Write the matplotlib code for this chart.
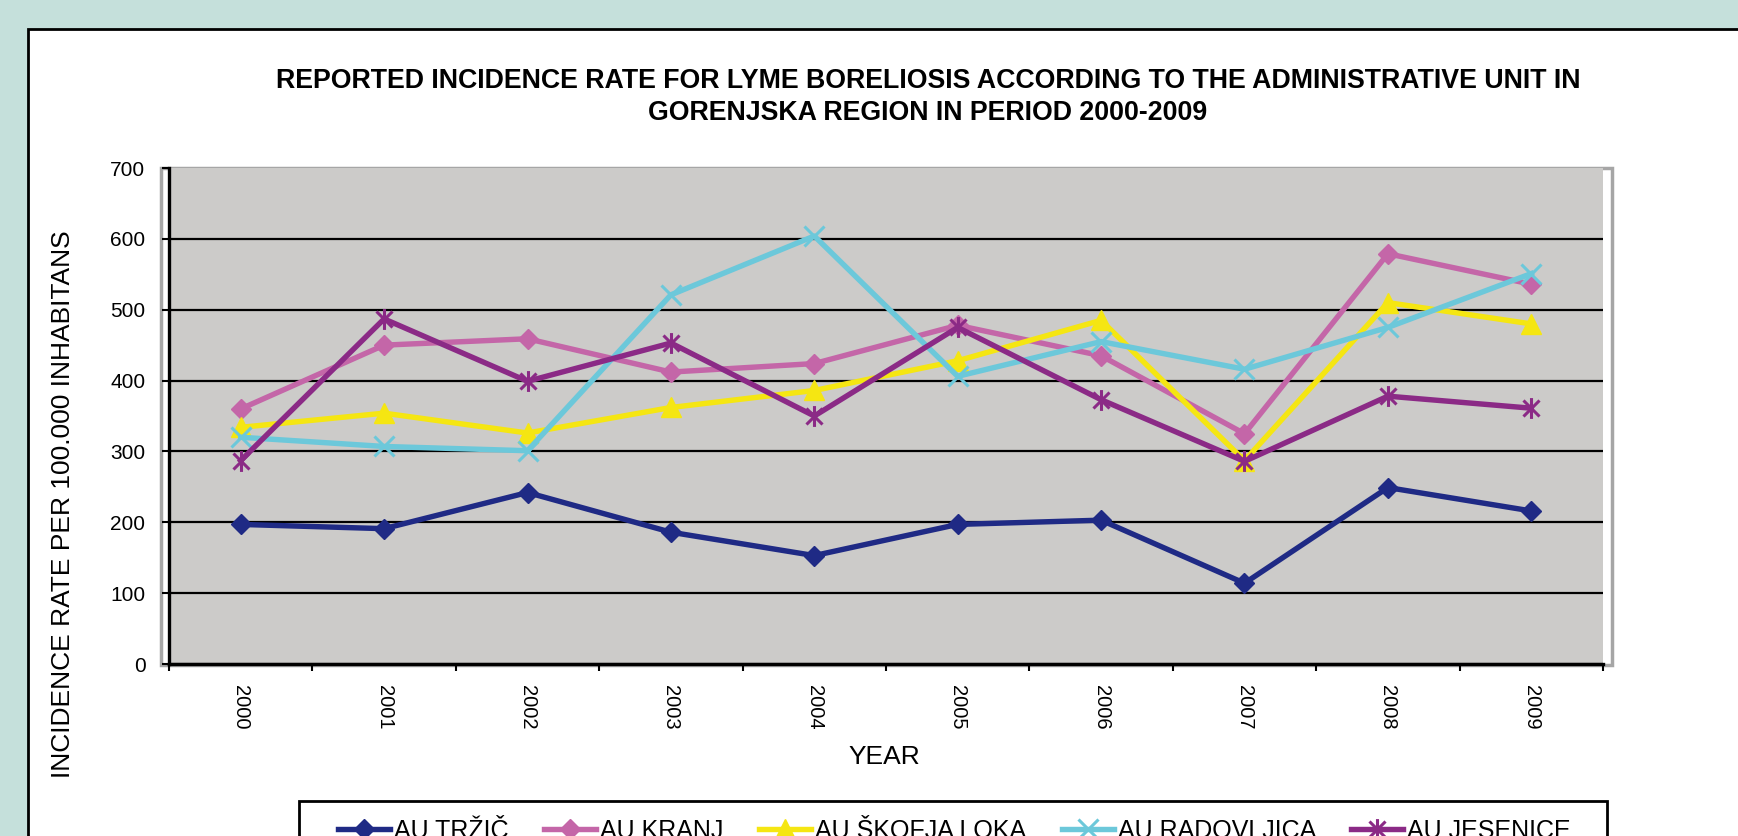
import numpy as np
import matplotlib
matplotlib.use('Agg')
import matplotlib.pyplot as plt
from matplotlib.path import Path
from matplotlib.patches import Rectangle

plt.rcParams['font.family'] = ['Liberation Sans', 'DejaVu Sans']

years = ['2000', '2001', '2002', '2003', '2004', '2005', '2006', '2007', '2008', '2009']
series_names = ['AU TRŽIČ', 'AU KRANJ', 'AU ŠKOFJA LOKA', 'AU RADOVLJICA', 'AU JESENICE']
trzic = [197, 191, 242, 186, 153, 197, 203, 114, 249, 216]
kranj = [360, 450, 459, 412, 424, 478, 435, 325, 579, 536]
skofja_loka = [334, 354, 326, 362, 386, 428, 485, 287, 510, 480]
radovljica = [320, 307, 301, 521, 604, 406, 455, 416, 475, 551]
jesenice = [287, 487, 399, 453, 350, 475, 373, 286, 378, 361]
yticks = [0, 100, 200, 300, 400, 500, 600, 700]

W, H = 1738, 836
fig = plt.figure(figsize=(W / 100, H / 100), dpi=100, facecolor='#C5E0DB')

# white panel with black border
fig.add_artist(Rectangle((28 / W, -0.1), 2, 1 - 29 / H + 0.1, transform=fig.transFigure,
                         facecolor='white', edgecolor='black', lw=2, zorder=-2))
# light grey frame round the plot area
fig.add_artist(Rectangle((161 / W, 1 - 665 / H), (1612 - 161) / W, (665 - 168) / H,
                         transform=fig.transFigure, facecolor='white', edgecolor='#A6A6A6',
                         lw=2.5, zorder=-1))

ax = fig.add_axes([169 / W, 1 - 664 / H, (1603 - 169) / W, (664 - 168) / H])
ax.set_facecolor('#CCCBC9')

# asterisk marker: X plus a vertical bar
star = Path([(-1, -1), (1, 1), (-1, 1), (1, -1), (0, -1.3), (0, 1.3)],
            [Path.MOVETO, Path.LINETO, Path.MOVETO, Path.LINETO, Path.MOVETO, Path.LINETO])

x = np.arange(len(years))
styles = [
    dict(color='#1F2A85', marker='D', ms=10.5),
    dict(color='#C466A8', marker='D', ms=10.5),
    dict(color='#F5E612', marker='^', ms=15),
    dict(color='#6CC8DA', marker='x', ms=14, mew=2.2),
    dict(color='#8B2A86', marker=star, ms=15, mew=2.2, mfc='none'),
]
handles = []
for vals, st in zip([trzic, kranj, skofja_loka, radovljica, jesenice], styles):
    ln, = ax.plot(x, vals, lw=3.9, **st)
    handles.append(ln)

ax.set_xlim(-0.5, len(years) - 0.5)
ax.set_ylim(0, 700)
ax.set_yticks(yticks)
ax.yaxis.grid(True, color='black', lw=1.6)
ax.get_ygridlines()[-1].set_visible(False)
ax.set_axisbelow(True)
ax.tick_params(axis='y', direction='out', length=5, width=1.5, pad=12, labelsize=15)

ax.set_xticks(np.arange(-0.5, len(years), 1))
ax.set_xticklabels([])
ax.set_xticks(x, labels=years, minor=True)
ax.tick_params(axis='x', which='major', direction='out', length=5, width=1.5)
ax.tick_params(axis='x', which='minor', length=0, pad=15, labelsize=14.5, labelrotation=270)

for side in ['top', 'right']:
    ax.spines[side].set_visible(False)
ax.spines['left'].set_linewidth(2.4)
ax.spines['bottom'].set_linewidth(2.4)

fig.text(928 / W, 1 - 97 / H,
         'REPORTED INCIDENCE RATE FOR LYME BORELIOSIS ACCORDING TO THE ADMINISTRATIVE UNIT IN\n'
         'GORENJSKA REGION IN PERIOD 2000-2009',
         ha='center', va='center', fontsize=19.3, fontweight='bold', linespacing=1.3)
fig.text(63 / W, 1 - 504 / H, 'INCIDENCE RATE PER 100.000 INHABITANS', rotation=90,
         ha='center', va='center', fontsize=19)
fig.text(884 / W, 1 - 757 / H, 'YEAR', ha='center', va='center', fontsize=19)

# legend box (cut off by the bottom edge)
fig.add_artist(Rectangle((299 / W, -0.1), (1607 - 299) / W, 1 - 801 / H + 0.1,
                         transform=fig.transFigure, facecolor='white', edgecolor='black', lw=2))
fig.legend(handles, series_names, ncol=5, loc='center left',
           bbox_to_anchor=(338 / W, 1 - 831 / H), frameon=False, borderpad=0, borderaxespad=0,
           handlelength=2.08, handletextpad=0.16, columnspacing=1.42,
           prop={'size': 18})

fig.savefig('out.png', dpi=100, facecolor=fig.get_facecolor())
